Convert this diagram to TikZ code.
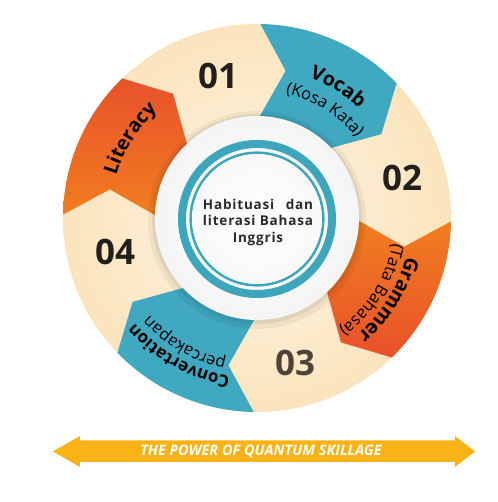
\documentclass[tikz,border=0pt]{standalone}
\usepackage{fontspec}
\setmainfont{Open Sans}
\newfontfamily\hubfont[LetterSpace=6]{Open Sans}
\usetikzlibrary{decorations.text}
\definecolor{creamin}{HTML}{FEF5E4}
\definecolor{creamout}{HTML}{FBE4BD}
\definecolor{tealseg}{HTML}{40A8C0}
\definecolor{orA}{HTML}{F17E1F}
\definecolor{orB}{HTML}{E8512B}
\definecolor{ringteal}{HTML}{3DA6BD}
\definecolor{numdark}{HTML}{231F1C}
\definecolor{numbrown}{HTML}{4D4338}
\definecolor{gold}{HTML}{F9B316}
\definecolor{txtdark}{HTML}{2A2A2A}
\tikzset{
  numlbl/.style={font=\fontsize{35}{35}\selectfont\bfseries, text=numdark, inner sep=0pt},
}
\newcommand\mainfnt{\fontsize{19.5}{19.5}\selectfont\bfseries}
\newcommand\convfnt{\fontsize{17}{17}\selectfont\bfseries}
\newcommand\subfnt{\fontsize{16.5}{16.5}\selectfont}
\newcommand\segshape[2]{% start angle, end angle
  (#1:194) arc[start angle=#1, end angle=#2, radius=194pt]
  -- ({#2-10}:150) -- (#2:100)
  arc[start angle=#2, end angle=#1, radius=100pt]
  -- ({#1-10}:150) -- cycle}
% font, text, baseline radius, centre angle
\newcommand\arclabel[4]{\path[decorate, decoration={text along path, text align=center, text={|#1|#2}}]
  ({#4+50}:#3) arc[start angle={#4+50}, end angle={#4-50}, radius=#3pt];}
\begin{document}
\begin{tikzpicture}[x=1pt,y=1pt]
\useasboundingbox (0,0) rectangle (497,502);
\begin{scope}[shift={(257,284)}]
  % cream base ring
  \shade[inner color=creamin, outer color=creamout] (0,0) circle[radius=194pt];
  % coloured arrow segments
  \fill[tealseg] \segshape{89}{44};
  \shade[top color=orA, bottom color=orB] \segshape{-1}{-46};
  \fill[tealseg] \segshape{-91}{-136};
  \shade[top color=orB, bottom color=orA] \segshape{179}{134};
  % white centre with soft shadow
  \fill[black, opacity=0.05] (0,-2) circle[radius=109pt];
  \fill[black, opacity=0.06] (0,-1) circle[radius=105pt];
  \shade[inner color=white, outer color=white!92!gray] (0,0) circle[radius=102pt];
  \draw[ringteal, line width=8pt] (0,-1) circle[radius=75pt];
  \draw[ringteal, line width=2.5pt] (0,-1) circle[radius=66.3pt];
  \shade[inner color=white, outer color=white!95!gray] (0,-1) circle[radius=64.8pt];
  % curved segment labels
  \arclabel{\mainfnt}{Vocab}{150}{58.3}
  \arclabel{\subfnt}{(Kosa Kata)}{128}{58}
  \arclabel{\mainfnt}{Literacy}{147}{148}
  \arclabel{\mainfnt}{Grammer}{154}{-31.8}
  \arclabel{\subfnt}{(Tata Bahasa)}{138}{-32}
  \arclabel{\convfnt}{Convertation}{161}{-119.5}
  \arclabel{\subfnt}{percakapan}{145}{-120}
\end{scope}
\node[font=\hubfont\fontsize{13.5}{16.5}\selectfont\bfseries, text=txtdark, align=center] (hub) at (258,280)
  {\setbox0\hbox{literasi Bahasa}\makebox[\wd0][s]{Habituasi dan}\\literasi Bahasa\\Inggris};
% numbers
\node[numlbl] (n1) at (218,426) {01};
\node[numlbl] (n2) at (402,324) {02};
\node[numlbl, text=numbrown] (n3) at (295,139) {03};
\node[numlbl] (n4) at (115,250) {04};
% bottom double arrow
\fill[gold] (53,50.5) -- (80,66) -- (80,61.5) -- (455,61.5) -- (455,66) -- (475,50.5)
  -- (455,35) -- (455,40) -- (80,40) -- (80,35) -- cycle;
\node[font=\fontsize{14.5}{14.5}\selectfont\bfseries\itshape, text=white, inner sep=0pt] (pow) at (261,50.5) {THE POWER OF QUANTUM SKILLAGE};
\end{tikzpicture}
\end{document}
